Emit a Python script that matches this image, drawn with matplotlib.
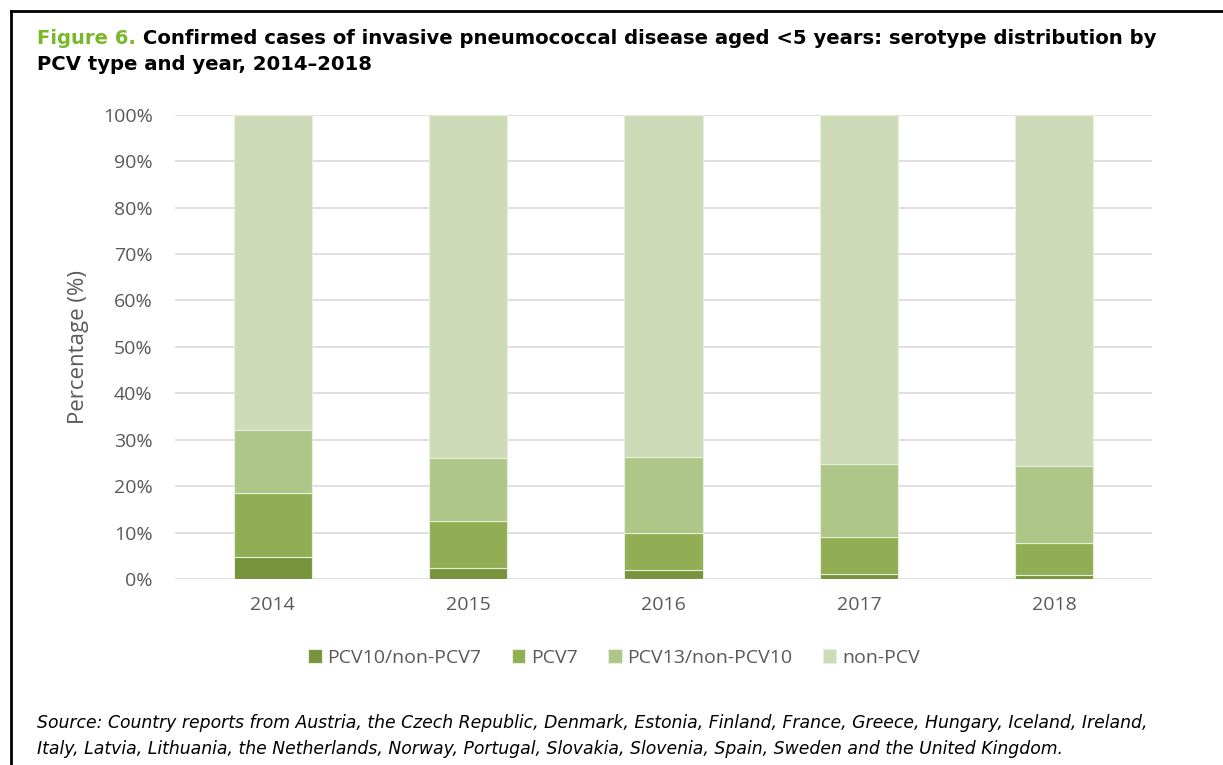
import matplotlib.pyplot as plt
import numpy as np
from matplotlib.lines import Line2D

years = ['2014', '2015', '2016', '2017', '2018']
series = ['PCV10/non-PCV7', 'PCV7', 'PCV13/non-PCV10', 'non-PCV']
pcv10 = [4.8, 2.3, 2.0, 1.1, 0.8]
pcv7 = [13.8, 10.3, 8.0, 7.9, 6.9]
pcv13 = [13.5, 13.4, 16.4, 15.7, 16.7]
nonpcv = [100 - a - b - c for a, b, c in zip(pcv10, pcv7, pcv13)]
colors = ['#77933c', '#92ae54', '#aec687', '#cedbb8']

fig = plt.figure(figsize=(12.23, 7.65), dpi=100)
ax = fig.add_axes([0.143, 0.243, 0.799, 0.607])

x = np.arange(len(years))
bottom = np.zeros(len(years))
for name, vals, col in zip(series, [pcv10, pcv7, pcv13, nonpcv], colors):
    ax.bar(x, vals, 0.4, bottom=bottom, color=col, label=name,
           edgecolor='#e6eedc', linewidth=0.8, zorder=3)
    bottom += np.array(vals)

# сетка
ax.set_ylim(0, 100)
ax.set_xlim(-0.5, 4.5)
ax.set_yticks(np.arange(0, 101, 10))
ax.set_yticklabels([f'{v}%' for v in range(0, 101, 10)])
ax.set_xticks(x)
ax.set_xticklabels(years)
ax.grid(axis='y', color='#d9d9d9', linewidth=1.2, zorder=0)
for s in ax.spines.values():
    s.set_visible(False)
ax.tick_params(length=0, labelsize=14, colors='#595959', pad=16)
ax.tick_params(axis='x', pad=12)
for lab in ax.get_xticklabels() + ax.get_yticklabels():
    lab.set_fontfamily('Open Sans')
ax.set_ylabel('Percentage (%)', fontsize=16, color='#595959', family='Open Sans', labelpad=10)

fig.legend(loc='center', bbox_to_anchor=(0.502, 0.14), ncol=4, frameon=False,
           handlelength=0.7, handleheight=0.7, handletextpad=0.3, columnspacing=1.55,
           prop={'family': 'Open Sans', 'size': 14}, labelcolor='#595959')

# оформление
t1 = fig.text(37 / 1223, 1 - 44 / 765, 'Figure 6.', color='#7ab829', fontsize=14.1,
              fontweight='bold', va='baseline')
ax.annotate(' Confirmed cases of invasive pneumococcal disease aged <5 years: serotype distribution by',
            xy=(1, 0), xycoords=t1, va='bottom', ha='left', fontsize=14.1, fontweight='bold',
            annotation_clip=False)
fig.text(37 / 1223, 1 - 70 / 765, 'PCV type and year, 2014\u20132018', fontsize=14.1,
         fontweight='bold', va='baseline')

fig.text(37 / 1223, 1 - 728 / 765,
         'Source: Country reports from Austria, the Czech Republic, Denmark, Estonia, Finland, France, Greece, Hungary, Iceland, Ireland,',
         fontsize=12.4, style='italic', va='baseline')
fig.text(37 / 1223, 1 - 754 / 765,
         'Italy, Latvia, Lithuania, the Netherlands, Norway, Portugal, Slovakia, Slovenia, Spain, Sweden and the United Kingdom.',
         fontsize=12.4, style='italic', va='baseline')

fig.add_artist(Line2D([11 / 1223, 11 / 1223], [0, 1 - 11 / 765], color='black', lw=2))
fig.add_artist(Line2D([11 / 1223, 1], [1 - 11 / 765, 1 - 11 / 765], color='black', lw=2))

fig.savefig('out.png', dpi=100)
